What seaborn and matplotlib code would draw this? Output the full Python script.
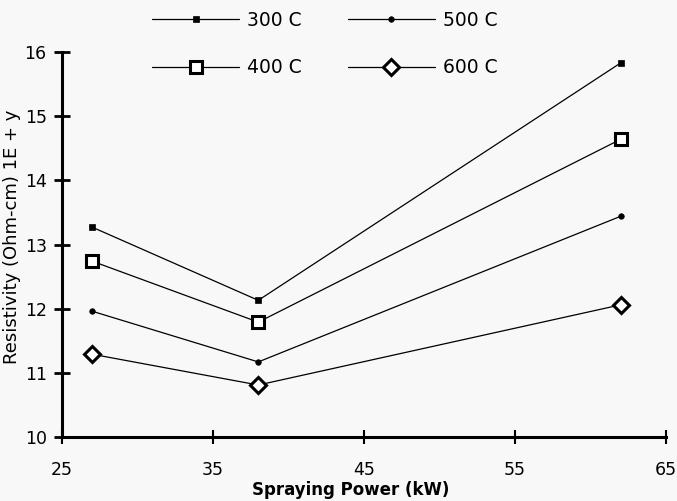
import numpy as np
import pandas as pd
import matplotlib
matplotlib.use("Agg")
import matplotlib.pyplot as plt
import seaborn as sns

power = [27, 38, 62]
res_300 = [13.27, 12.13, 15.83]
res_400 = [12.74, 11.79, 14.64]
res_500 = [11.96, 11.17, 13.44]
res_600 = [11.29, 10.81, 12.06]
temps = ["300 C", "400 C", "500 C", "600 C"]

x_ticks = [25, 35, 45, 55, 65]
y_ticks = [10, 11, 12, 13, 14, 15, 16]

# Long-Format fuer seaborn
df = pd.DataFrame({
    "power": power * 4,
    "res": res_300 + res_400 + res_500 + res_600,
    "temp": [t for t in temps for _ in power],
})

sns.set_style("ticks")
plt.rcParams["font.family"] = ["DejaVu Sans"]
plt.rcParams["text.color"] = "black"
plt.rcParams["axes.labelcolor"] = "black"
plt.rcParams["xtick.color"] = "black"
plt.rcParams["ytick.color"] = "black"
plt.rcParams["axes.edgecolor"] = "black"

bg = "#f8f8f8"
fig = plt.figure(figsize=(6.77, 5.01), dpi=100, facecolor=bg)
ax = fig.add_axes([62 / 677, 64 / 501, 604 / 677, 385 / 501], facecolor=bg)

markers = {"300 C": "s", "400 C": "s", "500 C": "o", "600 C": "D"}
sizes = {"300 C": 4, "400 C": 9, "500 C": 4, "600 C": 8}
faces = {"300 C": "black", "400 C": "white", "500 C": "black", "600 C": "white"}

sns.lineplot(data=df, x="power", y="res", hue="temp", style="temp",
             palette=["black"] * 4, markers=markers, dashes=False,
             linewidth=0.9, legend=False, ax=ax)

# Marker einzeln anpassen
for line, t in zip(ax.get_lines(), temps):
    line.set_markersize(sizes[t])
    line.set_markerfacecolor(faces[t])
    line.set_markeredgecolor("black")
    line.set_markeredgewidth(2.2 if faces[t] == "white" else 0.5)

ax.set_xlim(25, 65)
ax.set_ylim(10, 16)
ax.set_xticks(x_ticks)
ax.set_yticks(y_ticks)
sns.despine(ax=ax)
for s in ["left", "bottom"]:
    ax.spines[s].set_linewidth(2.2)
ax.tick_params(axis="y", direction="inout", length=12, width=2, pad=5, labelsize=12.5)
ax.tick_params(axis="x", direction="inout", length=10, width=1.5, pad=12, labelsize=12.5)

ax.set_xlabel("Spraying Power (kW)", fontsize=12, fontweight="bold")
ax.xaxis.set_label_coords((351 - 62) / 604, -0.114)
ax.set_ylabel("Resistivity (Ohm-cm) 1E + y", fontsize=13)
ax.yaxis.set_label_coords(-0.068, 0.52)

# Legende oben
handles = []
for line, t in zip(ax.get_lines(), temps):
    h = plt.Line2D([], [], color="black", linewidth=0.9, marker=line.get_marker(),
                   markersize=sizes[t], markerfacecolor=faces[t],
                   markeredgecolor="black",
                   markeredgewidth=2.2 if faces[t] == "white" else 0.5)
    handles.append(h)
fig.legend(handles, temps, ncol=2, loc="upper left",
           bbox_to_anchor=(152 / 677, 1 - 11 / 501), frameon=False,
           fontsize=13.5, handlelength=4.64, handletextpad=0.43,
           columnspacing=2.45, labelspacing=1.5, borderpad=0,
           borderaxespad=0, numpoints=1)

fig.savefig("out.png", dpi=100, facecolor=bg)
